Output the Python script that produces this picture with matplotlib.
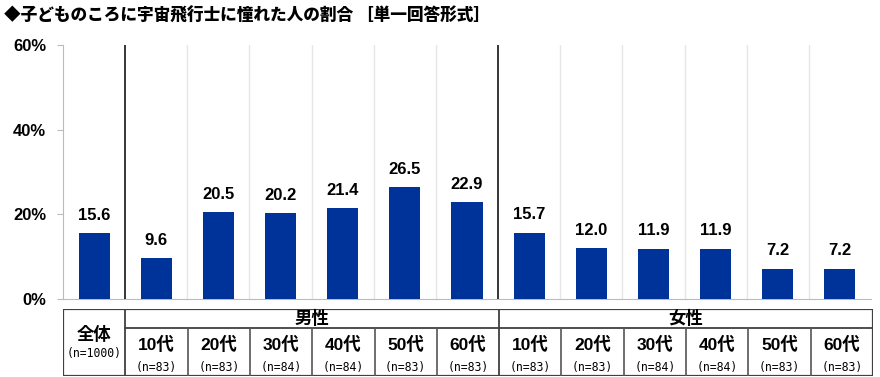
import matplotlib.pyplot as plt
from matplotlib.patches import Rectangle

plt.rcParams['font.family'] = ['Liberation Sans', 'Noto Sans CJK JP']

# data
groups = ['全体', '男性', '女性']
ages = ['10代', '20代', '30代', '40代', '50代', '60代']
total_value = 15.6
total_n = 1000
male_values = [9.6, 20.5, 20.2, 21.4, 26.5, 22.9]
male_n = [83, 83, 84, 84, 83, 83]
female_values = [15.7, 12.0, 11.9, 11.9, 7.2, 7.2]
female_n = [83, 83, 84, 84, 83, 83]
yticks = [0, 20, 40, 60]
title = '◆子どものころに宇宙飛行士に憧れた人の割合 ［単一回答形式］'

values = [total_value] + male_values + female_values
ncol = len(values)
W, H = 880, 377
fig = plt.figure(figsize=(W / 100, H / 100), dpi=100)

ax = fig.add_axes([63 / W, 1 - 299 / H, (871 - 63) / W, (299 - 45) / H])
xs = [i + 0.5 for i in range(ncol)]
ax.bar(xs, values, width=0.5, color='#003399', zorder=3)
for x, v in zip(xs, values):
    ax.text(x, v + 2.4, f'{v:.1f}', ha='center', va='bottom',
            fontsize=12, fontweight='bold')
ax.set_xlim(0, ncol)
ax.set_ylim(0, 60)
ax.set_yticks(yticks)
ax.set_yticklabels([f'{t}%' for t in yticks], fontsize=12, fontweight='bold')
ax.set_xticks([])
for i in range(1, ncol):
    if i in (1, 7):
        ax.axvline(i, color='black', lw=1.1, zorder=4)
    else:
        ax.axvline(i, color='#e6e6e6', lw=1, zorder=1)
for s in ['top', 'right']:
    ax.spines[s].set_visible(False)
ax.spines['left'].set_color('#bbbbbb')
ax.spines['bottom'].set_color('#bbbbbb')
ax.tick_params(axis='y', length=4, color='#bbbbbb', pad=8)

fig.text(4 / W, 1 - 16 / H, title, fontsize=12, fontweight='heavy', va='center',
         family=['Noto Sans CJK JP'])

# table below
tb = fig.add_axes([63 / W, 1 - 376 / H, (873 - 63) / W, (376 - 309) / H])
tb.set_xlim(0, ncol)
tb.set_ylim(0, 1)
tb.axis('off')
tb.add_patch(Rectangle((0, 0), ncol, 1, fill=False, ec='#404040', lw=1.6))
hdr = 0.72
tb.plot([1, ncol], [hdr, hdr], color='#404040', lw=1.3)
for i in range(2, ncol):
    if i == 7:
        tb.plot([i, i], [0, 1], color='#404040', lw=1.3)
    else:
        tb.plot([i, i], [0, hdr], color='#555555', lw=1.2)
tb.plot([1, 1], [0, 1], color='#404040', lw=1.3)
nfont = ['DejaVu Sans Mono']
tb.text(0.5, 0.62, groups[0], ha='center', va='center', fontsize=12.5, fontweight='bold')
tb.text(0.5, 0.33, f'(n={total_n})', ha='center', va='center', fontsize=8.3,
        family=nfont)
tb.text(4, 0.86, groups[1], ha='center', va='center', fontsize=12.5, fontweight='bold')
tb.text(10, 0.86, groups[2], ha='center', va='center', fontsize=12.5, fontweight='bold')
ns = male_n + female_n
for k in range(12):
    x = k + 1.5
    tb.text(x, 0.47, ages[k % 6], ha='center', va='center', fontsize=12.5, fontweight='bold')
    tb.text(x, 0.12, f'(n={ns[k]})', ha='center', va='center', fontsize=8.3,
            family=nfont)

fig.savefig('out.png', dpi=100)
